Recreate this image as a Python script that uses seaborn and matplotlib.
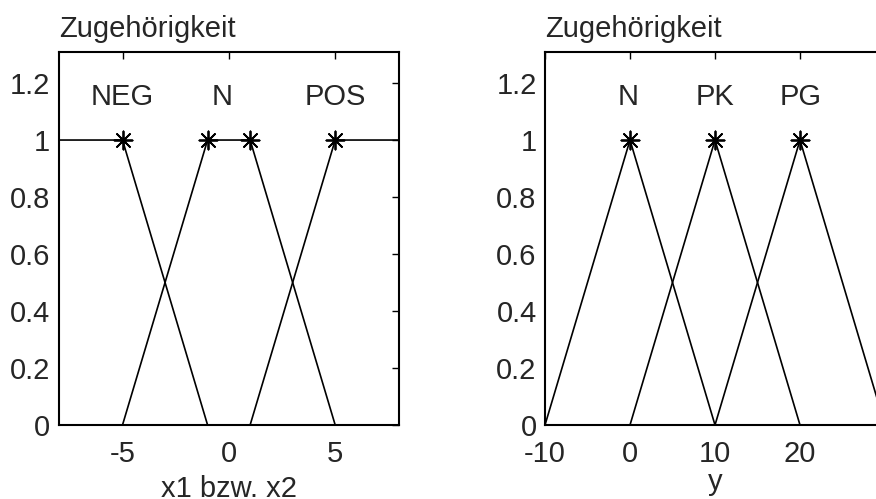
import pandas as pd
import seaborn as sns
import matplotlib.pyplot as plt

## Zugehörigkeitsfunktionen für Eingänge (x1, x2) und Ausgang (y)

# Eingang: Stützstellen der Fuzzy-Mengen
in_names = ["NEG", "N", "POS"]
in_x = [[-8, -5, -1], [-5, -1, 1, 5], [1, 5, 8]]
in_mu = [[1, 1, 0], [0, 1, 1, 0], [0, 1, 1]]
in_peaks = [-5, -1, 1, 5]
in_label_x = [-5, -0.3, 5]
in_ticks = [-5, 0, 5]
in_ticklabels = ["-5", "0", "5"]

# Ausgang
out_names = ["N", "PK", "PG"]
out_x = [[-10, 0, 10], [0, 10, 20], [10, 20, 30]]
out_mu = [[0, 1, 0], [0, 1, 0], [0, 1, 0]]
out_peaks = [0, 10, 20]
out_label_x = [-0.2, 10, 20.1]
out_ticks = [-10, 0, 10, 20, 30]
out_ticklabels = ["-10", "0", "10", "20", ""]  # 30 liegt ausserhalb des Bildes

sns.set_style("white")
plt.rcParams['font.family'] = ['Liberation Sans', 'DejaVu Sans']
FS = 21
plt.rcParams['font.size'] = FS

W, H = 876, 499
fig = plt.figure(figsize=(W / 100, H / 100), dpi=100)
ax1 = fig.add_axes([58.7 / W, (H - 425) / H, 340.3 / W, 373.3 / H])
ax2 = fig.add_axes([545 / W, (H - 425) / H, 340 / W, 373.3 / H])

star = (8, 2, 0)


def draw(ax, xs, mus, names, peaks, label_x, xlim, xticks, xticklabels,
         xlabel, labelpad):
    for x, mu in zip(xs, mus):
        d = pd.DataFrame({"x": x, "mu": mu})
        sns.lineplot(data=d, x="x", y="mu", sort=False, color="black",
                     lw=1.2, ax=ax)
    pk = pd.DataFrame({"x": peaks, "mu": [1] * len(peaks)})
    sns.scatterplot(data=pk, x="x", y="mu", marker=star, s=170,
                    color="black", linewidth=1.3, ax=ax, zorder=5)
    for name, lx in zip(names, label_x):
        ax.text(lx, 1.15, name, ha="center", va="center", fontsize=FS)
    ax.set_xlim(*xlim)
    ax.set_ylim(0, 1.31)
    ax.set_xticks(xticks)
    ax.set_xticklabels(xticklabels)
    ax.set_yticks([0, 0.2, 0.4, 0.6, 0.8, 1, 1.2])
    ax.set_yticklabels(["0", "0.2", "0.4", "0.6", "0.8", "1", "1.2"])
    ax.tick_params(direction="in", length=5, width=1, top=True, right=True,
                   labelsize=FS, color="black")
    ax.tick_params(axis="x", pad=11)
    ax.tick_params(axis="y", pad=6)
    for s in ax.spines.values():
        s.set_color("black")
        s.set_linewidth(1.5)
    ax.set_xlabel(xlabel, fontsize=FS, labelpad=labelpad)
    ax.set_ylabel("")
    ax.text(0, 1.04, "Zugehörigkeit", transform=ax.transAxes,
            ha="left", va="baseline", fontsize=FS)


draw(ax1, in_x, in_mu, in_names, in_peaks, in_label_x, (-8, 8),
     in_ticks, in_ticklabels, "x1 bzw. x2", 5)
draw(ax2, out_x, out_mu, out_names, out_peaks, out_label_x, (-10, 30),
     out_ticks, out_ticklabels, "y", 0)

fig.savefig("out.png", dpi=100)
